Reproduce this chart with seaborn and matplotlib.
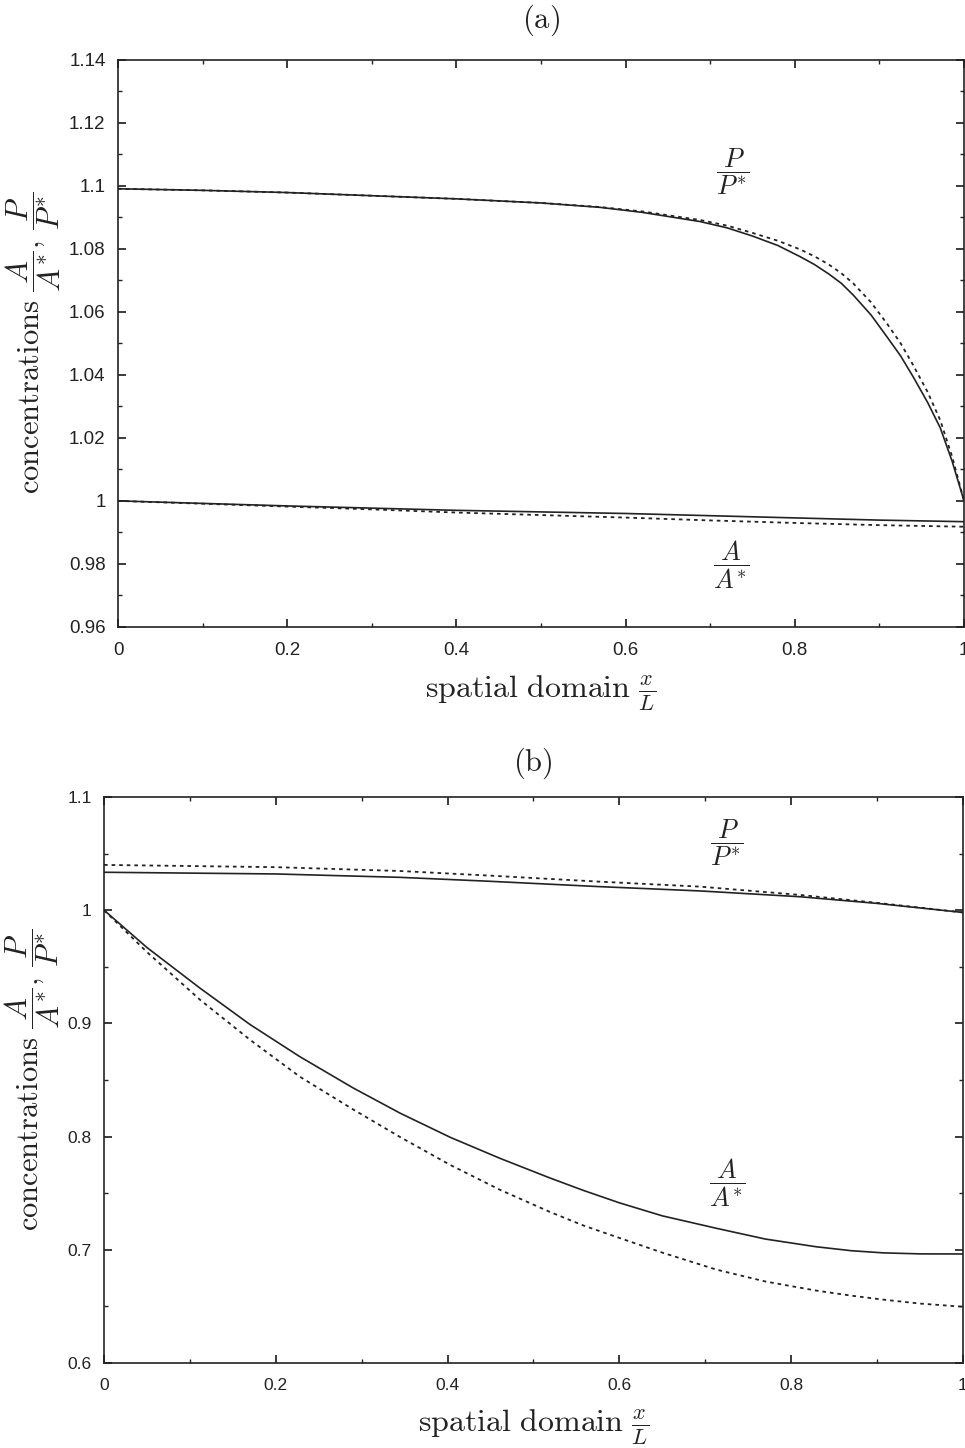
import numpy as np
import pandas as pd
import matplotlib
matplotlib.use("Agg")
import matplotlib.pyplot as plt
import seaborn as sns
from matplotlib.ticker import MultipleLocator

# panel (a) values
xa_p = [0.0, 0.1, 0.2, 0.3, 0.4, 0.5, 0.57, 0.62, 0.688, 0.72, 0.75, 0.78, 0.806, 0.823, 0.84,
        0.855, 0.869, 0.89, 0.909, 0.925, 0.94, 0.957, 0.972, 0.986, 1.0]
pa_solid = [1.0990, 1.0985, 1.0978, 1.0968, 1.0958, 1.0945, 1.0931, 1.0915, 1.0886, 1.0866, 1.0840,
            1.0810, 1.0775, 1.0750, 1.0720, 1.0690, 1.0653, 1.0590, 1.0520, 1.0460, 1.0393, 1.0312,
            1.0231, 1.0125, 1.0000]
pa_dash = [1.0990, 1.0985, 1.0978, 1.0968, 1.0958, 1.0945, 1.0932, 1.0918, 1.0891, 1.0873, 1.0850,
           1.0825, 1.0798, 1.0776, 1.0750, 1.0722, 1.0690, 1.0630, 1.0562, 1.0500, 1.0430, 1.0345,
           1.0255, 1.0140, 1.0000]
xa_a = [0.0, 0.1, 0.2, 0.3, 0.4, 0.5, 0.6, 0.7, 0.8, 0.9, 1.0]
aa_solid = [1.0, 0.9992, 0.9984, 0.9977, 0.9970, 0.9965, 0.9960, 0.9953, 0.9946, 0.9939, 0.9934]
aa_dash = [1.0, 0.9991, 0.9982, 0.9973, 0.9963, 0.9955, 0.9947, 0.9938, 0.9930, 0.9923, 0.9918]

# panel (b)
xb_p = [0.0, 0.2, 0.345, 0.45, 0.577, 0.694, 0.81, 0.9, 1.0]
pb_solid = [1.0335, 1.0320, 1.0290, 1.0255, 1.0208, 1.0170, 1.0119, 1.0060, 0.9980]
pb_dash = [1.0400, 1.0380, 1.0346, 1.0305, 1.0252, 1.0208, 1.0135, 1.0065, 0.9980]
xb_a = [0.0, 0.05, 0.112, 0.17, 0.228, 0.29, 0.345, 0.403, 0.461, 0.519, 0.558, 0.6, 0.65,
        0.713, 0.77, 0.829, 0.87, 0.907, 0.95, 1.0]
ab_solid = [1.0, 0.967, 0.931, 0.899, 0.8706, 0.8430, 0.8206, 0.7994, 0.7808, 0.7635, 0.7525,
            0.7415, 0.7300, 0.7190, 0.7095, 0.7027, 0.6992, 0.6973, 0.6964, 0.6963]
ab_dash = [1.0, 0.963, 0.9207, 0.8855, 0.8529, 0.8240, 0.7995, 0.7750, 0.7530, 0.7335, 0.7215,
           0.7105, 0.6975, 0.6825, 0.6720, 0.6640, 0.6595, 0.6560, 0.6525, 0.6497]

sns.set_theme(style="ticks", rc={
    "xtick.direction": "in", "ytick.direction": "in",
    "xtick.top": True, "ytick.right": True,
    "xtick.major.size": 6, "ytick.major.size": 6,
    "xtick.minor.size": 3, "ytick.minor.size": 3,
    "axes.edgecolor": "#222222", "axes.linewidth": 1.2,
})
plt.rcParams["font.family"] = ["Liberation Sans", "DejaVu Sans"]
plt.rcParams["mathtext.fontset"] = "cm"

fig = plt.figure(figsize=(9.65, 14.48), dpi=100)
ax1 = fig.add_axes([0.1223, 0.567, 0.8767, 0.3919])
ax2 = fig.add_axes([0.1078, 0.0587, 0.890, 0.3909])

solid = dict(color="#222222", linewidth=1.2)
dash = dict(color="#222222", linewidth=1.3, linestyle=(0, (2, 2.2)))

def draw(ax, x, y, style):
    sns.lineplot(x=x, y=y, ax=ax, **style)

draw(ax1, xa_p, pa_solid, solid)
draw(ax1, xa_p, pa_dash, dash)
draw(ax1, xa_a, aa_solid, solid)
draw(ax1, xa_a, aa_dash, dash)
draw(ax2, xb_p, pb_solid, solid)
draw(ax2, xb_p, pb_dash, dash)
draw(ax2, xb_a, ab_solid, solid)
draw(ax2, xb_a, ab_dash, dash)

ylab = r"$\mathrm{concentrations}\ \dfrac{A}{A^{*}},\,\dfrac{P}{P^{*}}$"
xlab = r"$\mathrm{spatial\ domain}\ \frac{x}{L}$"

for ax, lim, major, minor, tsize in [(ax1, (0.96, 1.14), 0.02, 0.01, 13.5),
                                     (ax2, (0.6, 1.1), 0.1, 0.05, 12.5)]:
    ax.set_xlim(0, 1)
    ax.set_ylim(*lim)
    ax.xaxis.set_major_locator(MultipleLocator(0.2))
    ax.xaxis.set_minor_locator(MultipleLocator(0.1))
    ax.yaxis.set_major_locator(MultipleLocator(major))
    ax.yaxis.set_minor_locator(MultipleLocator(minor))
    ax.tick_params(which="both", colors="#222222", labelsize=tsize, labelcolor="#222222")
    ax.tick_params(axis="y", pad=9)
    ax.tick_params(axis="x", pad=11)
    ax.yaxis.set_major_formatter(plt.FuncFormatter(lambda v, p: f"{v:.2f}".rstrip("0").rstrip(".")))
    ax.xaxis.set_major_formatter(plt.FuncFormatter(lambda v, p: f"{v:.1f}".rstrip("0").rstrip(".")))
    ax.set_xlabel(xlab, fontsize=23, color="#222222", labelpad=10)
    ax.set_ylabel(ylab, fontsize=22, color="#222222", labelpad=4)
    for s in ax.spines.values():
        s.set_visible(True)

frac = dict(fontsize=19, ha="center", va="center", color="#222222")
ax1.text(0.726, 1.1043, r"$\dfrac{P}{P^{*}}$", **frac)
ax1.text(0.725, 0.9797, r"$\dfrac{A}{A^{*}}$", **frac)
ax2.text(0.725, 1.0594, r"$\dfrac{P}{P^{*}}$", **frac)
ax2.text(0.725, 0.759, r"$\dfrac{A}{A^{*}}$", **frac)

fig.text(541 / 965, 1 - 20 / 1448, r"$\mathrm{(a)}$", fontsize=22, ha="center", va="center", color="#222222")
fig.text(533 / 965, 1 - 763 / 1448, r"$\mathrm{(b)}$", fontsize=22, ha="center", va="center", color="#222222")

fig.savefig("out.png", dpi=100)
